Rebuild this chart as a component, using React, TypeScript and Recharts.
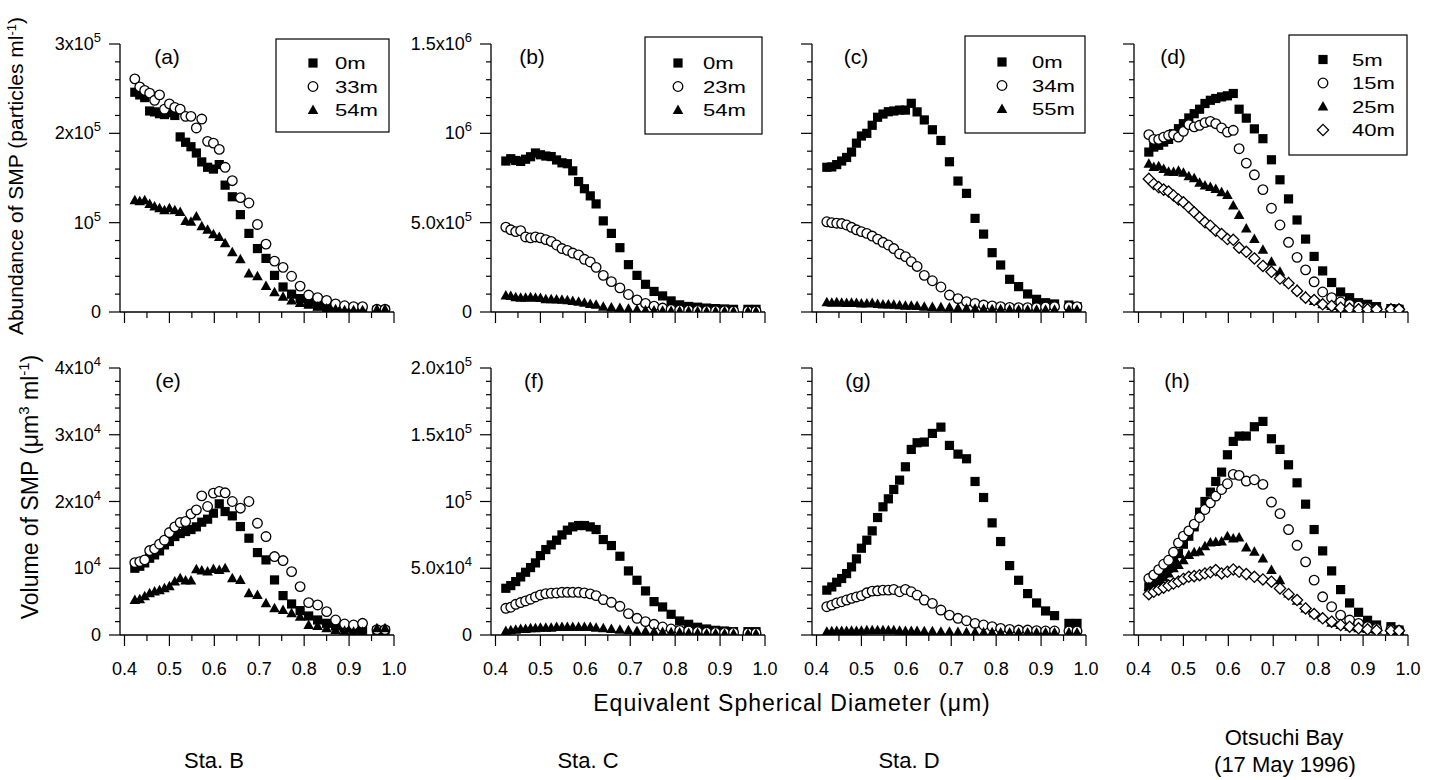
import React from 'react'
import { ScatterChart, Scatter, XAxis, YAxis } from 'recharts'

const FONT = '"Liberation Sans", Arial, Helvetica, sans-serif'

// equivalent spherical diameter of each size class (um)
const diameter = [
  0.423, 0.434, 0.445, 0.456, 0.467, 0.478, 0.489, 0.5, 0.512, 0.524, 0.536, 0.548,
  0.56, 0.572, 0.585, 0.598, 0.611, 0.624, 0.64, 0.658, 0.677, 0.696, 0.715, 0.734,
  0.753, 0.772, 0.791, 0.81, 0.83, 0.85, 0.87, 0.89, 0.91, 0.93, 0.962, 0.98,
]

// (a) Sta. B abundance, x10^5 particles/ml
const abundB0m = [2.46, 2.43, 2.4, 2.25, 2.24, 2.22, 2.21, 2.23, 2.2, 1.96, 1.9, 1.85, 1.78, 1.68, 1.62, 1.6, 1.65, 1.42, 1.29, 1.09, 0.88, 0.71, 0.6, 0.41, 0.28, 0.2, 0.15, 0.11, 0.07, 0.05, 0.03, 0.025, 0.02, 0.02, 0.02, 0.02]
const abundB33m = [2.61, 2.52, 2.48, 2.45, 2.37, 2.43, 2.27, 2.33, 2.29, 2.27, 2.19, 2.19, 2.06, 2.16, 1.91, 1.89, 1.82, 1.62, 1.47, 1.28, 1.22, 0.98, 0.76, 0.57, 0.5, 0.4, 0.29, 0.19, 0.16, 0.13, 0.09, 0.07, 0.06, 0.06, 0.03, 0.03]
const abundB54m = [1.25, 1.24, 1.25, 1.21, 1.18, 1.16, 1.14, 1.16, 1.14, 1.12, 1.02, 1.01, 1.07, 0.96, 0.92, 0.87, 0.84, 0.77, 0.67, 0.59, 0.43, 0.4, 0.29, 0.22, 0.17, 0.13, 0.1, 0.08, 0.06, 0.04, 0.03, 0.02, 0.02, 0.02, 0.03, 0.03]

// (b) Sta. C abundance, x10^5 particles/ml
const abundC0m = [8.45, 8.58, 8.48, 8.43, 8.55, 8.69, 8.9, 8.8, 8.73, 8.7, 8.51, 8.35, 8.3, 7.9, 7.3, 6.9, 6.5, 6.05, 5.1, 4.4, 3.6, 2.65, 2.05, 1.55, 1.15, 0.9, 0.62, 0.4, 0.31, 0.27, 0.22, 0.19, 0.17, 0.15, 0.15, 0.15]
const abundC23m = [4.75, 4.6, 4.5, 4.55, 4.2, 4.15, 4.2, 4.15, 4.05, 3.95, 3.75, 3.55, 3.45, 3.3, 3.2, 2.95, 2.8, 2.5, 2.05, 1.7, 1.35, 0.98, 0.68, 0.48, 0.33, 0.22, 0.15, 0.12, 0.1, 0.09, 0.08, 0.07, 0.07, 0.06, 0.06, 0.06]
const abundC54m = [0.92, 0.9, 0.82, 0.8, 0.8, 0.82, 0.8, 0.78, 0.72, 0.72, 0.7, 0.68, 0.66, 0.62, 0.58, 0.52, 0.45, 0.4, 0.3, 0.25, 0.22, 0.18, 0.14, 0.1, 0.08, 0.07, 0.06, 0.05, 0.05, 0.04, 0.04, 0.04, 0.04, 0.04, 0.04, 0.04]

// (c) Sta. D abundance, x10^5 particles/ml
const abundD0m = [8.1, 8.12, 8.25, 8.45, 8.65, 8.95, 9.45, 9.85, 10.0, 10.45, 10.9, 11.08, 11.21, 11.25, 11.3, 11.3, 11.68, 11.2, 10.75, 10.2, 9.6, 8.41, 7.33, 6.64, 5.24, 4.36, 3.32, 2.63, 1.83, 1.42, 1.01, 0.71, 0.52, 0.45, 0.39, 0.3]
const abundD34m = [5.05, 5.0, 4.97, 4.95, 4.87, 4.74, 4.6, 4.5, 4.4, 4.25, 4.08, 3.9, 3.75, 3.55, 3.25, 3.1, 2.82, 2.55, 2.05, 1.75, 1.4, 0.95, 0.75, 0.58, 0.48, 0.39, 0.34, 0.3, 0.26, 0.24, 0.24, 0.25, 0.28, 0.3, 0.3, 0.3]
const abundD55m = [0.55, 0.52, 0.55, 0.52, 0.5, 0.52, 0.5, 0.48, 0.48, 0.5, 0.45, 0.42, 0.42, 0.4, 0.38, 0.35, 0.35, 0.33, 0.3, 0.28, 0.27, 0.25, 0.22, 0.2, 0.18, 0.17, 0.16, 0.15, 0.14, 0.13, 0.12, 0.12, 0.12, 0.12, 0.12, 0.12]

// (d) Otsuchi Bay abundance, x10^5 particles/ml
const abundO5m = [8.95, 9.23, 9.33, 9.51, 9.66, 9.98, 10.26, 10.54, 10.86, 11.1, 11.35, 11.67, 11.85, 11.95, 12.04, 12.1, 12.23, 11.35, 10.85, 10.25, 9.7, 8.52, 7.4, 6.33, 5.15, 4.08, 3.11, 2.3, 1.65, 1.12, 0.8, 0.52, 0.43, 0.3, 0.19, 0.15]
const abundO15m = [9.93, 9.66, 9.66, 9.79, 9.89, 9.93, 9.79, 10.11, 10.49, 10.36, 10.45, 10.6, 10.67, 10.54, 10.3, 10.07, 10.17, 9.14, 8.33, 7.68, 6.85, 5.81, 4.87, 3.9, 3.06, 2.36, 1.69, 1.12, 0.8, 0.56, 0.43, 0.34, 0.24, 0.19, 0.15, 0.15]
const abundO25m = [8.3, 8.11, 8.16, 8.0, 7.85, 7.83, 7.9, 7.8, 7.6, 7.49, 7.23, 7.08, 6.99, 6.89, 6.7, 6.55, 5.96, 5.43, 4.68, 4.08, 3.48, 2.81, 2.25, 1.69, 1.27, 0.9, 0.62, 0.43, 0.34, 0.24, 0.19, 0.15, 0.12, 0.11, 0.11, 0.11]
const abundO40m = [7.45, 7.17, 6.99, 6.85, 6.74, 6.52, 6.3, 6.14, 5.86, 5.58, 5.3, 5.02, 4.83, 4.55, 4.36, 4.08, 4.04, 3.6, 3.37, 3.0, 2.58, 2.25, 1.87, 1.61, 1.18, 0.8, 0.67, 0.43, 0.34, 0.24, 0.19, 0.15, 0.15, 0.15, 0.15, 0.15]

// (e) Sta. B volume, x10^3 um3/ml
const volB0m = [10.0, 10.3, 10.8, 11.5, 12.0, 12.6, 13.5, 14.0, 14.75, 15.2, 15.5, 15.8, 16.2, 16.9, 17.35, 18.25, 19.65, 18.5, 17.85, 16.25, 14.5, 12.35, 11.25, 8.25, 5.9, 4.65, 3.65, 2.85, 2.25, 1.75, 1.35, 1.1, 0.9, 0.75, 0.65, 0.65]
const volB33m = [10.85, 11.0, 11.25, 12.65, 12.9, 13.6, 14.2, 15.35, 16.2, 16.85, 17.0, 18.15, 18.75, 20.85, 19.25, 21.25, 21.5, 21.3, 20.0, 19.0, 20.0, 16.75, 14.75, 11.75, 11.15, 9.5, 7.25, 4.85, 4.5, 3.5, 2.25, 1.65, 1.5, 1.75, 0.8, 0.8]
const volB54m = [5.25, 5.35, 5.8, 6.25, 6.5, 6.7, 7.0, 7.3, 8.0, 8.5, 8.15, 8.15, 9.85, 9.65, 9.5, 9.9, 9.75, 10.0, 8.5, 8.25, 6.25, 6.0, 4.75, 4.0, 3.75, 3.25, 2.75, 1.5, 1.35, 1.0, 0.75, 0.65, 0.5, 0.5, 1.0, 1.0]

// (f) Sta. C volume, x10^4 um3/ml
const volC0m = [3.5, 3.7, 4.0, 4.35, 4.7, 5.05, 5.4, 5.95, 6.4, 6.75, 7.1, 7.5, 7.85, 8.1, 8.2, 8.2, 8.1, 7.9, 7.15, 6.7, 5.9, 4.8, 4.1, 3.3, 2.5, 2.1, 1.55, 1.05, 0.8, 0.58, 0.45, 0.35, 0.3, 0.25, 0.25, 0.25]
const volC23m = [2.0, 2.08, 2.3, 2.43, 2.55, 2.68, 2.85, 3.0, 3.1, 3.13, 3.15, 3.2, 3.2, 3.2, 3.2, 3.15, 3.08, 2.95, 2.65, 2.45, 2.15, 1.6, 1.25, 1.0, 0.8, 0.6, 0.45, 0.35, 0.3, 0.25, 0.22, 0.2, 0.18, 0.18, 0.15, 0.15]
const volC54m = [0.3, 0.35, 0.4, 0.45, 0.45, 0.5, 0.5, 0.55, 0.55, 0.55, 0.6, 0.6, 0.6, 0.6, 0.6, 0.6, 0.6, 0.55, 0.5, 0.45, 0.4, 0.35, 0.3, 0.28, 0.25, 0.22, 0.2, 0.18, 0.15, 0.15, 0.12, 0.12, 0.1, 0.1, 0.1, 0.1]

// (g) Sta. D volume, x10^4 um3/ml
const volD0m = [3.36, 3.6, 3.95, 4.23, 4.6, 5.1, 5.7, 6.5, 7.1, 7.8, 8.8, 9.6, 10.2, 10.9, 11.6, 12.6, 13.9, 14.4, 14.45, 15.1, 15.57, 14.2, 13.55, 13.2, 11.5, 10.3, 8.4, 7.0, 5.2, 4.1, 3.1, 2.4, 1.8, 1.45, 0.87, 0.87]
const volD34m = [2.12, 2.24, 2.4, 2.49, 2.62, 2.74, 2.85, 2.95, 3.16, 3.29, 3.31, 3.36, 3.36, 3.41, 3.24, 3.41, 3.24, 2.99, 2.62, 2.37, 1.87, 1.49, 1.25, 1.07, 0.87, 0.75, 0.62, 0.5, 0.42, 0.37, 0.37, 0.32, 0.3, 0.3, 0.3, 0.3]
const volD55m = [0.25, 0.28, 0.3, 0.3, 0.3, 0.32, 0.3, 0.32, 0.35, 0.35, 0.35, 0.35, 0.35, 0.35, 0.32, 0.3, 0.3, 0.3, 0.28, 0.28, 0.25, 0.25, 0.22, 0.2, 0.2, 0.2, 0.2, 0.18, 0.18, 0.18, 0.18, 0.18, 0.18, 0.18, 0.18, 0.18]

// (h) Otsuchi Bay volume, x10^4 um3/ml
const volO5m = [3.6, 3.8, 4.2, 4.6, 5.0, 5.5, 6.1, 6.8, 7.4, 8.1, 9.2, 10.0, 10.7, 11.5, 12.2, 13.5, 14.5, 14.9, 14.9, 15.6, 16.0, 14.7, 13.9, 12.75, 11.4, 9.8, 7.9, 6.3, 4.8, 3.4, 2.4, 1.7, 1.1, 0.75, 0.62, 0.37]
const volO15m = [4.23, 4.5, 4.9, 5.3, 5.6, 6.2, 6.9, 7.4, 7.8, 8.3, 8.8, 9.4, 9.9, 10.4, 10.9, 11.33, 12.03, 11.96, 11.53, 11.63, 11.28, 9.96, 9.09, 7.9, 6.72, 5.48, 4.11, 2.86, 2.12, 1.49, 1.12, 0.87, 0.62, 0.5, 0.4, 0.35]
const volO25m = [3.6, 3.75, 4.0, 4.3, 4.6, 5.0, 5.25, 5.6, 6.0, 6.2, 6.25, 6.65, 6.92, 6.97, 7.0, 7.4, 7.22, 7.3, 6.55, 6.23, 5.73, 4.86, 4.11, 3.11, 2.57, 1.99, 1.62, 1.32, 0.92, 0.75, 0.62, 0.5, 0.45, 0.4, 0.35, 0.3]
const volO40m = [3.06, 3.24, 3.4, 3.55, 3.7, 3.85, 4.0, 4.2, 4.36, 4.41, 4.48, 4.6, 4.7, 4.86, 4.61, 4.73, 4.91, 4.73, 4.56, 4.36, 4.16, 3.99, 3.49, 3.06, 2.62, 1.99, 1.57, 1.25, 1.0, 0.75, 0.62, 0.5, 0.42, 0.35, 0.32, 0.32]

// depth legends
const depthsB = ['0m', '33m', '54m']
const depthsC = ['0m', '23m', '54m']
const depthsD = ['0m', '34m', '55m']
const depthsO = ['5m', '15m', '25m', '40m']

// axis ticks (value, base text, exponent)
const xTicks = [0.4, 0.45, 0.5, 0.55, 0.6, 0.65, 0.7, 0.75, 0.8, 0.85, 0.9, 0.95, 1.0]
const abundBTicks: [number, string, string][] = [[0, '0', ''], [1, '10', '5'], [2, '2x10', '5'], [3, '3x10', '5']]
const abundTicks: [number, string, string][] = [[0, '0', ''], [5, '5.0x10', '5'], [10, '10', '6'], [15, '1.5x10', '6']]
const volBTicks: [number, string, string][] = [[0, '0', ''], [10, '10', '4'], [20, '2x10', '4'], [30, '3x10', '4'], [40, '4x10', '4']]
const volTicks: [number, string, string][] = [[0, '0', ''], [5, '5.0x10', '4'], [10, '10', '5'], [15, '1.5x10', '5'], [20, '2.0x10', '5']]

type Marker = 'square' | 'circle' | 'triangle' | 'diamond'
const markers: Marker[] = ['square', 'circle', 'triangle', 'diamond']

function drawMarker(kind: Marker, cx: number, cy: number) {
  switch (kind) {
    case 'square':
      return <rect x={cx - 4.6} y={cy - 4.6} width={9.2} height={9.2} fill="#000" />
    case 'circle':
      return <circle cx={cx} cy={cy} r={4.8} fill="#fff" stroke="#000" strokeWidth={1.3} />
    case 'triangle':
      return <polygon points={`${cx},${cy - 5.5} ${cx + 5.3},${cy + 4} ${cx - 5.3},${cy + 4}`} fill="#000" />
    default:
      return (
        <polygon
          points={`${cx},${cy - 5.6} ${cx + 5.6},${cy} ${cx},${cy + 5.6} ${cx - 5.6},${cy}`}
          fill="#fff"
          stroke="#000"
          strokeWidth={1.3}
        />
      )
  }
}

const shapeFor = (kind: Marker) => (props: any) => {
  if (props.cx == null || props.cy == null) return <g />
  return drawMarker(kind, props.cx, props.cy)
}

const stepTicks = (max: number, step: number) =>
  Array.from({ length: Math.round(max / step) + 1 }, (_, i) => +(i * step).toFixed(3))

const makeYTick = (major: [number, string, string][], showLabels: boolean) => (props: any) => {
  const { x, y, payload } = props
  const m = major.find((t) => Math.abs(t[0] - payload.value) < 1e-6)
  return (
    <g>
      <line x1={x} x2={x - (m ? 11 : 5)} y1={y} y2={y} stroke="#000" strokeWidth={1.2} />
      {m && showLabels && (
        <text x={x - 19} y={y + 6} textAnchor="end" fontSize={18} fontFamily={FONT} fill="#000">
          <tspan>{m[1]}</tspan>
          {m[2] && (
            <tspan dy={-8} fontSize={13}>
              {m[2]}
            </tspan>
          )}
        </text>
      )}
    </g>
  )
}

const makeXTick = (showLabels: boolean) => (props: any) => {
  const { x, y, payload } = props
  const v = payload.value
  const major = Math.abs(v * 10 - Math.round(v * 10)) < 1e-6
  return (
    <g>
      <line x1={x} x2={x} y1={y} y2={y + (major ? 11 : 6)} stroke="#000" strokeWidth={1.2} />
      {major && showLabels && (
        <text x={x} y={y + 40} textAnchor="middle" fontSize={18} fontFamily={FONT} fill="#000">
          {v.toFixed(1)}
        </text>
      )}
    </g>
  )
}

interface PanelProps {
  left: number
  top: number
  plotHeight: number
  yMax: number
  minorStep: number
  major: [number, string, string][]
  yLabels: boolean
  xLabels: boolean
  series: number[][]
}

function Panel({ left, top, plotHeight, yMax, minorStep, major, yLabels, xLabels, series }: PanelProps) {
  const axisLine = { stroke: '#000', strokeWidth: 1.3 }
  return (
    <div style={{ position: 'absolute', left: left - 100, top: top - 20 }}>
      <ScatterChart width={398} height={plotHeight + 70} margin={{ top: 20, right: 24, bottom: 0, left: 0 }}>
        <XAxis
          type="number"
          dataKey="x"
          domain={[0.39, 1.0]}
          ticks={xTicks}
          interval={0}
          tick={makeXTick(xLabels)}
          tickLine={false}
          tickSize={0}
          tickMargin={0}
          axisLine={axisLine}
          height={50}
          allowDataOverflow
        />
        <YAxis
          type="number"
          dataKey="y"
          domain={[0, yMax]}
          ticks={stepTicks(yMax, minorStep)}
          interval={0}
          tick={makeYTick(major, yLabels)}
          tickLine={false}
          tickSize={0}
          tickMargin={0}
          axisLine={axisLine}
          width={100}
          allowDataOverflow
        />
        {series.map((vals, i) => (
          <Scatter
            key={i}
            data={diameter.map((d, j) => ({ x: d, y: vals[j] }))}
            shape={shapeFor(markers[i])}
            isAnimationActive={false}
          />
        ))}
      </ScatterChart>
    </div>
  )
}

function Legend({ x, y, w, h, rowY, markerX, textX, labels }: any) {
  return (
    <g>
      <rect x={x} y={y} width={w} height={h} fill="#fff" stroke="#000" strokeWidth={1.2} />
      {labels.map((lab: string, i: number) => (
        <g key={lab}>
          {drawMarker(markers[i], markerX, rowY[i])}
          <text
            transform={`translate(${textX},${rowY[i] + 6}) scale(1.3,1)`}
            fontSize={17}
            fontFamily={FONT}
            fill="#000"
          >
            {lab}
          </text>
        </g>
      ))}
    </g>
  )
}

const cols = [120, 491, 812, 1134]
const topRow = 44
const bottomRow = 368

export default function App() {
  const txt = { fontFamily: FONT, fill: '#000' }
  return (
    <div style={{ position: 'absolute', left: 0, top: 0, width: 1434, height: 780, background: '#fff' }}>
      <Panel left={cols[0]} top={topRow} plotHeight={268} yMax={3} minorStep={0.2} major={abundBTicks} yLabels xLabels={false} series={[abundB0m, abundB33m, abundB54m]} />
      <Panel left={cols[1]} top={topRow} plotHeight={268} yMax={15} minorStep={1} major={abundTicks} yLabels xLabels={false} series={[abundC0m, abundC23m, abundC54m]} />
      <Panel left={cols[2]} top={topRow} plotHeight={268} yMax={15} minorStep={1} major={abundTicks} yLabels={false} xLabels={false} series={[abundD0m, abundD34m, abundD55m]} />
      <Panel left={cols[3]} top={topRow} plotHeight={268} yMax={15} minorStep={1} major={abundTicks} yLabels={false} xLabels={false} series={[abundO5m, abundO15m, abundO25m, abundO40m]} />
      <Panel left={cols[0]} top={bottomRow} plotHeight={267} yMax={40} minorStep={2} major={volBTicks} yLabels xLabels series={[volB0m, volB33m, volB54m]} />
      <Panel left={cols[1]} top={bottomRow} plotHeight={267} yMax={20} minorStep={1} major={volTicks} yLabels xLabels series={[volC0m, volC23m, volC54m]} />
      <Panel left={cols[2]} top={bottomRow} plotHeight={267} yMax={20} minorStep={1} major={volTicks} yLabels={false} xLabels series={[volD0m, volD34m, volD55m]} />
      <Panel left={cols[3]} top={bottomRow} plotHeight={267} yMax={20} minorStep={1} major={volTicks} yLabels={false} xLabels series={[volO5m, volO15m, volO25m, volO40m]} />

      <svg width={1434} height={780} style={{ position: 'absolute', left: 0, top: 0, pointerEvents: 'none' }}>
        <Legend x={276} y={39} w={113} h={93} rowY={[63, 86.5, 110]} markerX={313} textX={335} labels={depthsB} />
        <Legend x={645} y={37} w={117} h={97} rowY={[63, 86.5, 110]} markerX={678} textX={703} labels={depthsC} />
        <Legend x={965} y={36} w={120} h={97} rowY={[62, 85.5, 109]} markerX={1002} textX={1032} labels={depthsD} />
        <Legend x={1289} y={35} w={118} h={120} rowY={[59.5, 83, 106.5, 130]} markerX={1323} textX={1352} labels={depthsO} />

        {[
          ['(a)', 167, 63.5], ['(b)', 532, 63.5], ['(c)', 856, 63.5], ['(d)', 1173, 63.5],
          ['(e)', 168, 388], ['(f)', 534, 388], ['(g)', 858, 388], ['(h)', 1177, 388],
        ].map(([t, x, y]) => (
          <text key={t as string} x={x as number} y={y as number} textAnchor="middle" fontSize={21} {...txt}>
            {t}
          </text>
        ))}

        <text x={23} y={176} transform="rotate(-90, 23, 176)" textAnchor="middle" fontSize={21} {...txt}>
          <tspan>Abundance of SMP (particles ml</tspan>
          <tspan dy={-7} fontSize={13}>-1</tspan>
          <tspan dy={7}>)</tspan>
        </text>
        <text x={38} y={487} transform="rotate(-90, 38, 487)" textAnchor="middle" fontSize={23} {...txt}>
          <tspan>Volume of SMP (μm</tspan>
          <tspan dy={-9} fontSize={15}>3</tspan>
          <tspan dy={9}> ml</tspan>
          <tspan dy={-9} fontSize={15}>-1</tspan>
          <tspan dy={9}>)</tspan>
        </text>

        <text x={792} y={711} textAnchor="middle" fontSize={23} letterSpacing={1} {...txt}>
          Equivalent Spherical Diameter (μm)
        </text>
        <text x={214} y={768} textAnchor="middle" fontSize={22} {...txt}>Sta. B</text>
        <text x={588} y={768} textAnchor="middle" fontSize={22} {...txt}>Sta. C</text>
        <text x={909} y={768} textAnchor="middle" fontSize={22} {...txt}>Sta. D</text>
        <text x={1284} y={745} textAnchor="middle" fontSize={22} {...txt}>Otsuchi Bay</text>
        <text x={1285} y={772} textAnchor="middle" fontSize={22} {...txt}>(17 May 1996)</text>
      </svg>
    </div>
  )
}
